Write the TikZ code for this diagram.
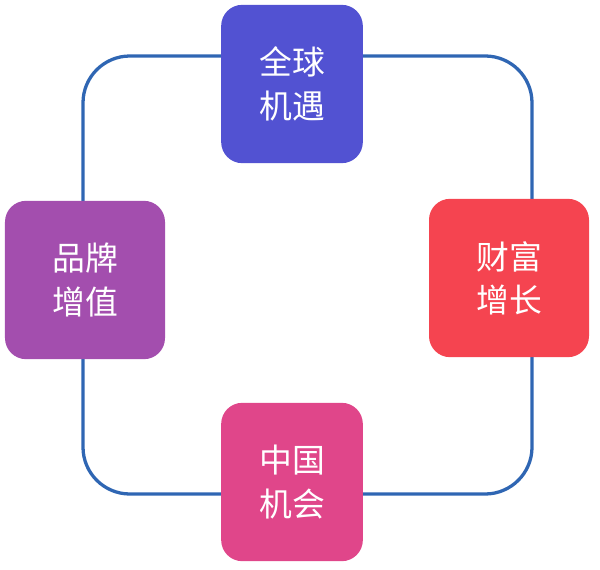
\documentclass[tikz,border=0pt]{standalone}
\usepackage{fontspec}
\newfontfamily\cjk{Noto Sans CJK SC}
\usetikzlibrary{calc}
\definecolor{ring}{HTML}{2F66B3}
\definecolor{topc}{HTML}{5252D2}
\definecolor{rightc}{HTML}{F54450}
\definecolor{leftc}{HTML}{A34EAE}
\definecolor{botc}{HTML}{E0468A}
\tikzset{
  tile/.style={rounded corners=18pt, minimum width=4.25cm, minimum height=4.75cm,
    text=white, font=\cjk\fontsize{28}{37}\selectfont, align=center, inner sep=0pt},
  wide/.style={tile, minimum width=4.8cm},
  loop/.style={draw=ring, line width=2.8pt, rounded corners=40pt},
}
\begin{document}
\begin{tikzpicture}[x=0.03cm,y=-0.03cm]
  \useasboundingbox (0,0) rectangle (600,569);
  \draw[loop] (83,56) rectangle (532,494);
  \node[tile, fill=topc] (global) at (292,84) {全球\\机遇};
  \node[wide, fill=rightc] (wealth) at (509,278) {财富\\增长};
  \node[wide, fill=leftc] (brand) at (85,280) {品牌\\增值};
  \node[tile, fill=botc] (china) at (292,482) {中国\\机会};
\end{tikzpicture}
\end{document}
